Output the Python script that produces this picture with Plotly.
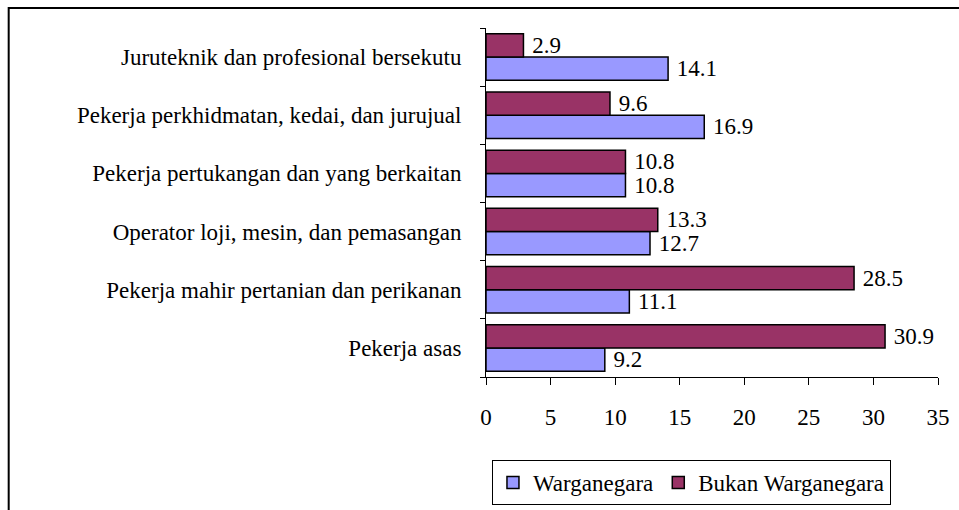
import plotly.graph_objects as go

categories = [
    "Juruteknik dan profesional bersekutu",
    "Pekerja perkhidmatan, kedai, dan jurujual",
    "Pekerja pertukangan dan yang berkaitan",
    "Operator loji, mesin, dan pemasangan",
    "Pekerja mahir pertanian dan perikanan",
    "Pekerja asas",
]
warganegara = [14.1, 16.9, 10.8, 12.7, 11.1, 9.2]
bukan_warganegara = [2.9, 9.6, 10.8, 13.3, 28.5, 30.9]
x_ticks = [0, 5, 10, 15, 20, 25, 30, 35]

FONT = "Liberation Serif"
FS = 23

fig = go.Figure()
fig.add_trace(go.Bar(
    y=categories, x=warganegara, name="Warganegara", orientation="h",
    marker=dict(color="#9999FF", line=dict(color="black", width=1.5)),
    texttemplate="\u00a0%{x}", textposition="outside", constraintext="none",
    textfont=dict(family=FONT, size=FS, color="black"), cliponaxis=False,
))
fig.add_trace(go.Bar(
    y=categories, x=bukan_warganegara, name="Bukan Warganegara", orientation="h",
    marker=dict(color="#993366", line=dict(color="black", width=1.5)),
    texttemplate="\u00a0%{x}", textposition="outside", constraintext="none",
    textfont=dict(family=FONT, size=FS, color="black"), cliponaxis=False,
))

fig.update_layout(
    width=959, height=510,
    margin=dict(l=486, r=21, t=28, b=133, autoexpand=False),
    barmode="group", bargap=0.2, bargroupgap=0,
    paper_bgcolor="white", plot_bgcolor="white",
    font=dict(family=FONT, size=FS, color="black"),
    showlegend=True,
    legend=dict(
        orientation="h", xref="container", yref="container",
        x=0.513, y=0.098, xanchor="left", yanchor="top",
        bordercolor="black", borderwidth=1, bgcolor="white",
        font=dict(family=FONT, size=FS, color="black"),
        traceorder="normal", itemwidth=30,
    ),
    xaxis=dict(
        range=[0, 35], tickvals=x_ticks, ticks="outside", ticklen=7,
        tickcolor="black", showline=True, linecolor="black", linewidth=1,
        showgrid=False, zeroline=False, ticklabelstandoff=12,
        tickfont=dict(family=FONT, size=FS, color="black"),
    ),
    yaxis=dict(
        categoryorder="array", categoryarray=list(reversed(categories)),
        ticks="outside", ticklen=5, tickcolor="black", tickson="boundaries",
        showline=True, linecolor="black", linewidth=1, showgrid=False,
        ticklabelstandoff=19,
        tickfont=dict(family=FONT, size=FS, color="black"),
    ),
    shapes=[dict(
        type="rect", xref="paper", yref="paper",
        x0=-1.056, x1=1.2, y0=-0.5, y1=1.057,
        line=dict(color="black", width=2), fillcolor="rgba(0,0,0,0)", layer="below",
    )],
)

fig.write_html(
    "out.html",
    config={"displayModeBar": False},
    post_script="document.body.style.margin='0';document.body.style.overflow='hidden';",
)
